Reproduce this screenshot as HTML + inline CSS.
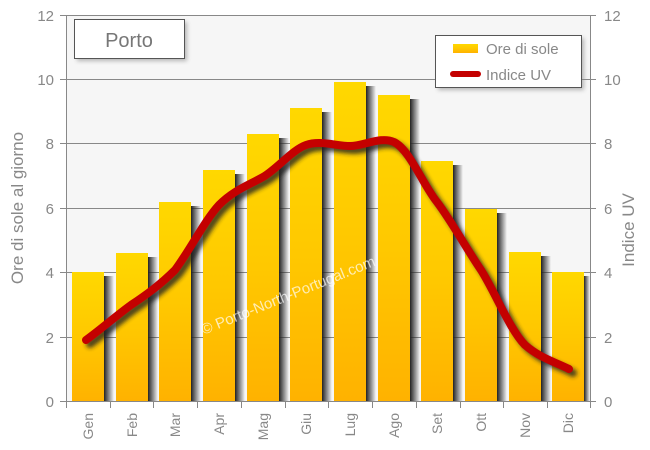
<!DOCTYPE html>
<html><head><meta charset="utf-8"><style>html,body{margin:0;padding:0;background:#fff}svg{display:block;font-family:"Liberation Sans",sans-serif}</style></head><body>
<svg width="650" height="450" viewBox="0 0 650 450">
<defs>
<linearGradient id="bar" x1="0" y1="0" x2="0" y2="1"><stop offset="0" stop-color="#ffd800"/><stop offset="0.5" stop-color="#ffc800"/><stop offset="1" stop-color="#ffb200"/></linearGradient>
<linearGradient id="sh" x1="0" y1="0" x2="1" y2="0"><stop offset="0" stop-color="#222"/><stop offset="1" stop-color="#222" stop-opacity="0"/></linearGradient>
<filter id="blur"><feGaussianBlur stdDeviation="2"/></filter>
</defs>
<rect x="66" y="15" width="524" height="386" fill="#f6f6f6"/>
<g stroke="#888" stroke-width="1">
<line x1="60" y1="15.5" x2="596" y2="15.5"/><line x1="60" y1="79.5" x2="596" y2="79.5"/><line x1="60" y1="143.5" x2="596" y2="143.5"/><line x1="60" y1="208.5" x2="596" y2="208.5"/><line x1="60" y1="272.5" x2="596" y2="272.5"/><line x1="60" y1="337.5" x2="596" y2="337.5"/><line x1="60" y1="401.5" x2="596" y2="401.5"/>
<line x1="66.5" y1="15" x2="66.5" y2="408"/><line x1="590.5" y1="15" x2="590.5" y2="401"/>
<line x1="110.5" y1="401" x2="110.5" y2="408"/><line x1="153.5" y1="401" x2="153.5" y2="408"/><line x1="197.5" y1="401" x2="197.5" y2="408"/><line x1="241.5" y1="401" x2="241.5" y2="408"/><line x1="285.5" y1="401" x2="285.5" y2="408"/><line x1="328.5" y1="401" x2="328.5" y2="408"/><line x1="372.5" y1="401" x2="372.5" y2="408"/><line x1="416.5" y1="401" x2="416.5" y2="408"/><line x1="460.5" y1="401" x2="460.5" y2="408"/><line x1="503.5" y1="401" x2="503.5" y2="408"/><line x1="547.5" y1="401" x2="547.5" y2="408"/><line x1="590.5" y1="401" x2="590.5" y2="408"/>
</g>
<g fill="url(#sh)">
<rect x="104" y="276" width="10" height="125"/><rect x="148" y="257" width="10" height="144"/><rect x="191" y="206" width="10" height="195"/><rect x="235" y="174" width="10" height="227"/><rect x="279" y="138" width="10" height="263"/><rect x="322" y="112" width="10" height="289"/><rect x="366" y="86" width="10" height="315"/><rect x="410" y="99" width="10" height="302"/><rect x="453" y="165" width="10" height="236"/><rect x="497" y="213" width="10" height="188"/><rect x="541" y="256" width="10" height="145"/><rect x="584" y="276" width="6" height="125"/>
</g>
<g fill="url(#bar)">
<rect x="72" y="272" width="32" height="129"/><rect x="116" y="253" width="32" height="148"/><rect x="159" y="202" width="32" height="199"/><rect x="203" y="170" width="32" height="231"/><rect x="247" y="134" width="32" height="267"/><rect x="290" y="108" width="32" height="293"/><rect x="334" y="82" width="32" height="319"/><rect x="378" y="95" width="32" height="306"/><rect x="421" y="161" width="32" height="240"/><rect x="465" y="209" width="32" height="192"/><rect x="509" y="252" width="32" height="149"/><rect x="552" y="272" width="32" height="129"/>
</g>
<text x="290" y="300" transform="rotate(-22 290 300)" font-size="15" fill="#fff" fill-opacity="0.7" text-anchor="middle">© Porto-North-Portugal.com</text>
<path d="M86,340 C100,330 117,315 131,305 C146,295 160,285 175,270 C190,250 205,220 219,205 C234,190 249,185 263,177 C278,168 292,150 306,145 C320,140 336,146 350,146 C364,146 380,136 394,142 C410,150 423,185 437,202 C452,222 466,248 481,270 C495,292 510,330 525,345 C540,358 555,362 569,369" fill="none" stroke="#222" stroke-width="8" stroke-linecap="round" transform="translate(4,4)" filter="url(#blur)" opacity="0.8"/>
<path d="M86,340 C100,330 117,315 131,305 C146,295 160,285 175,270 C190,250 205,220 219,205 C234,190 249,185 263,177 C278,168 292,150 306,145 C320,140 336,146 350,146 C364,146 380,136 394,142 C410,150 423,185 437,202 C452,222 466,248 481,270 C495,292 510,330 525,345 C540,358 555,362 569,369" fill="none" stroke="#c40000" stroke-width="8" stroke-linecap="round"/>
<g font-size="15" fill="#888" text-anchor="end">
<text x="54" y="21">12</text><text x="54" y="85">10</text><text x="54" y="149">8</text><text x="54" y="214">6</text><text x="54" y="278">4</text><text x="54" y="343">2</text><text x="54" y="407">0</text>
</g>
<g font-size="15" fill="#888" text-anchor="start">
<text x="604" y="21">12</text><text x="604" y="85">10</text><text x="604" y="149">8</text><text x="604" y="214">6</text><text x="604" y="278">4</text><text x="604" y="343">2</text><text x="604" y="407">0</text>
</g>
<text transform="translate(23,208) rotate(-90)" font-size="17" fill="#888" text-anchor="middle">Ore di sole al giorno</text>
<text transform="translate(634,230) rotate(-90)" font-size="17" fill="#888" text-anchor="middle">Indice UV</text>
<g font-size="14" fill="#888" text-anchor="end">
<text transform="translate(93,413) rotate(-90)">Gen</text><text transform="translate(137,413) rotate(-90)">Feb</text><text transform="translate(180,413) rotate(-90)">Mar</text><text transform="translate(224,413) rotate(-90)">Apr</text><text transform="translate(268,413) rotate(-90)">Mag</text><text transform="translate(311,413) rotate(-90)">Giu</text><text transform="translate(355,413) rotate(-90)">Lug</text><text transform="translate(399,413) rotate(-90)">Ago</text><text transform="translate(442,413) rotate(-90)">Set</text><text transform="translate(486,413) rotate(-90)">Ott</text><text transform="translate(530,413) rotate(-90)">Nov</text><text transform="translate(573,413) rotate(-90)">Dic</text>
</g>
<rect x="77" y="22" width="110" height="39" fill="#888" opacity="0.6" filter="url(#blur)"/>
<rect x="74.5" y="19.5" width="110" height="39" fill="#fff" stroke="#555"/>
<text x="129" y="47" font-size="20" fill="#777" text-anchor="middle">Porto</text>
<rect x="438" y="38" width="146" height="52" fill="#888" opacity="0.6" filter="url(#blur)"/>
<rect x="435.5" y="35.5" width="146" height="52" fill="#fff" stroke="#555"/>
<rect x="453" y="44" width="25" height="9" fill="url(#bar)"/>
<line x1="453" y1="74" x2="478" y2="74" stroke="#c40000" stroke-width="6" stroke-linecap="round"/>
<text x="486" y="54" font-size="15" fill="#888">Ore di sole</text>
<text x="486" y="80" font-size="15" fill="#888">Indice UV</text>
</svg>
</body></html>
